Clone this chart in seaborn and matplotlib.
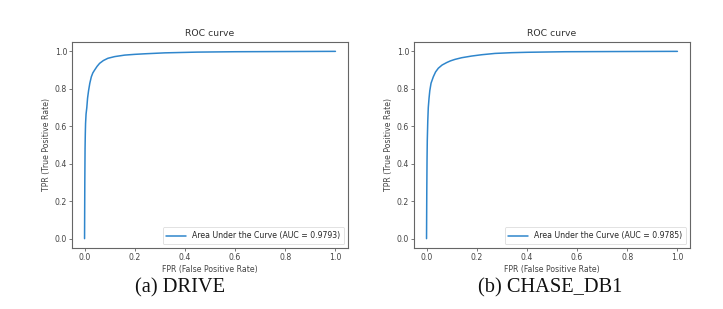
import matplotlib
matplotlib.use('Agg')
import matplotlib.pyplot as plt
import seaborn as sns

# ROC points
fpr_drive = [0.0, 0.001, 0.002, 0.003, 0.004, 0.006, 0.009, 0.012, 0.016, 0.021, 0.027, 0.033,
             0.04, 0.05, 0.06, 0.075, 0.093, 0.12, 0.16, 0.20, 0.24, 0.32, 0.45, 0.6, 0.8, 1.0]
tpr_drive = [0.0, 0.30, 0.48, 0.56, 0.615, 0.665, 0.70, 0.75, 0.79, 0.83, 0.864, 0.885,
             0.90, 0.92, 0.936, 0.951, 0.963, 0.972, 0.98, 0.984, 0.987, 0.992, 0.996, 0.998, 0.999, 1.0]

fpr_chase = [0.0, 0.001, 0.002, 0.003, 0.005, 0.007, 0.010, 0.013, 0.018, 0.027, 0.036, 0.047,
             0.062, 0.08, 0.095, 0.113, 0.14, 0.18, 0.22, 0.273, 0.34, 0.4, 0.55, 0.75, 1.0]
tpr_chase = [0.0, 0.25, 0.42, 0.525, 0.63, 0.70, 0.75, 0.79, 0.83, 0.864, 0.89, 0.91,
             0.927, 0.94, 0.949, 0.957, 0.966, 0.975, 0.982, 0.989, 0.993, 0.995, 0.998, 0.999, 1.0]

auc_values = [0.9793, 0.9785]
captions = ['(a) DRIVE', '(b) CHASE_DB1']

sns.set_style('white')
plt.rcParams['font.family'] = ['DejaVu Sans']

fig = plt.figure(figsize=(7.23, 3.09), dpi=100)
fig.patch.set_facecolor('white')

lefts = [0.0996, 0.5726]
caption_x = [0.249, 0.761]
panels = [(fpr_drive, tpr_drive), (fpr_chase, tpr_chase)]
fs = 5.6

for left, cx, (fpr, tpr), auc, cap in zip(lefts, caption_x, panels, auc_values, captions):
    ax = fig.add_axes([left, 0.1974, 0.3817, 0.6667])
    sns.lineplot(x=fpr, y=tpr, ax=ax, color='#2f86cc', linewidth=1.1,
                 estimator=None, sort=False,
                 label='Area Under the Curve (AUC = %.4f)' % auc)
    ax.set_xlim(-0.05, 1.05)
    ax.set_ylim(-0.05, 1.05)
    ax.set_xticks([0.0, 0.2, 0.4, 0.6, 0.8, 1.0])
    ax.set_yticks([0.0, 0.2, 0.4, 0.6, 0.8, 1.0])
    ax.set_xticklabels(['0.0', '0.2', '0.4', '0.6', '0.8', '1.0'])
    ax.set_yticklabels(['0.0', '0.2', '0.4', '0.6', '0.8', '1.0'])
    ax.tick_params(labelsize=fs, length=2, width=0.5, colors='#444444', pad=1.5,
                   bottom=True, left=True)
    for sp in ax.spines.values():
        sp.set_color('#666666')
        sp.set_linewidth(0.8)
    ax.set_title('ROC curve', fontsize=6.7, color='#333333', pad=4)
    ax.set_xlabel('FPR (False Positive Rate)', fontsize=fs, color='#444444', labelpad=2)
    ax.set_ylabel('TPR (True Positive Rate)', fontsize=fs, color='#444444', labelpad=3)
    leg = ax.legend(loc='lower right', fontsize=fs, frameon=True, handlelength=2.5,
                    borderpad=0.5, fancybox=True)
    leg.get_frame().set_linewidth(0.5)
    leg.get_frame().set_edgecolor('#cccccc')
    fig.text(cx, 0.068, cap, ha='center', va='center',
             fontsize=14.7, family='Liberation Serif', color='#111111')

fig.savefig('out.png', dpi=100, facecolor='white')
